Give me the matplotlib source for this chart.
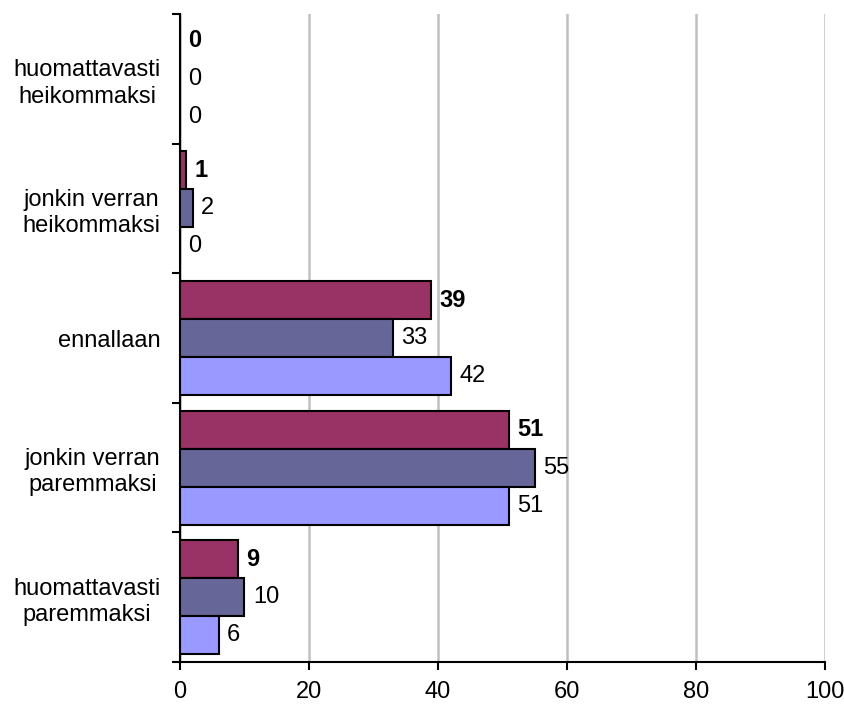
import numpy as np
import matplotlib.pyplot as plt

plt.rcParams['font.family'] = ['Liberation Sans', 'DejaVu Sans']

categories = ['huomattavasti\nheikommaksi', 'jonkin verran\nheikommaksi', 'ennallaan',
              'jonkin verran\nparemmaksi', 'huomattavasti\nparemmaksi']
series1 = [0, 1, 39, 51, 9]
series2 = [0, 2, 33, 55, 10]
series3 = [0, 0, 42, 51, 6]
x_ticks = [0, 20, 40, 60, 80, 100]

colors = ['#993366', '#666699', '#9999FF']
all_series = [series1, series2, series3]

fig = plt.figure(figsize=(8.45, 7.07), dpi=100)
ax = fig.add_axes([0.213, 0.0636, 0.763, 0.9166])

pos = np.arange(len(categories))
h = 0.293
for j, vals in enumerate(all_series):
    y = pos + (j - 1) * h
    ax.barh(y, vals, height=h, color=colors[j], edgecolor='black', linewidth=1.5, zorder=3)
    for yy, v in zip(y, vals):
        ax.annotate(str(v), (v, yy), xytext=(6, 0), textcoords='offset points',
                    va='center', ha='left', fontsize=17,
                    fontweight='bold' if j == 0 else 'normal')

ax.set_xlim(0, 100)
ax.set_ylim(len(categories) - 0.5, -0.5)
ax.set_xticks(x_ticks)
ax.tick_params(axis='x', labelsize=17, length=6, width=1.5, direction='out', pad=8)
ax.xaxis.grid(True, color='#C0C0C0', linewidth=1.8, zorder=0)

ax.set_yticks(np.arange(len(categories) + 1) - 0.5)
ax.set_yticklabels([])
ax.tick_params(axis='y', length=6, width=1.5, direction='out')
ax.set_yticks(pos, minor=True)
ax.set_yticklabels(categories, minor=True, fontsize=17, ha='right',
                   multialignment='center', linespacing=1.25)
ax.tick_params(axis='y', which='minor', length=0, pad=14)

for s in ['top', 'right']:
    ax.spines[s].set_visible(False)
for s in ['left', 'bottom']:
    ax.spines[s].set_linewidth(1.5)

fig.savefig('out.png', dpi=100)
